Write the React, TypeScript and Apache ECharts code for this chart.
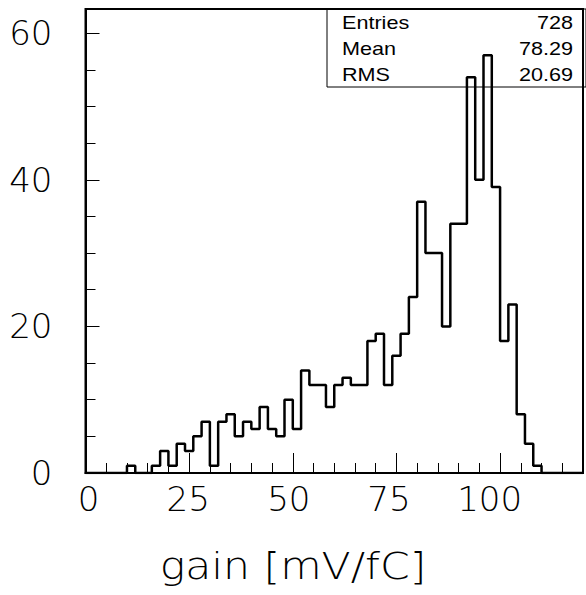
import { useEffect, useRef } from "react";
import * as echarts from "echarts";

// Histogram of channel gains: 60 bins of 2 mV/fC between 0 and 120.
const BIN_WIDTH = 2;
const X_MIN = 0;
const X_MAX = 120;
const Y_MAX = 63.3;
const counts = [
  0, 0, 0, 0, 0, 1, 0, 0, 1, 3,
  1, 4, 3, 5, 7, 1, 7, 8, 5, 7,
  6, 9, 6, 5, 10, 6, 14, 12, 12, 9,
  12, 13, 12, 12, 18, 19, 12, 16, 19, 24,
  37, 30, 30, 20, 34, 34, 54, 40, 57, 39,
  18, 23, 8, 4, 1, 0, 0, 0, 0, 0,
];
const xTickLabels = [0, 25, 50, 75, 100];
const yTickLabels = [0, 20, 40, 60];
const statNames = ["Entries", "Mean", "RMS"];
const statValues = ["728", "78.29", "20.69"];
const xTitle = "gain [mV/fC]";

const LABEL_FONT = "DejaVu Sans";
// Small per-label horizontal nudges for the x tick labels.
const xLabelPads: [number, number, number, number][] = [
  [0, 0, 0, 6],
  [0, 2, 0, 0],
  [0, 8, 0, 0],
  [0, 15, 0, 0],
  [0, 21, 0, 0],
];

export default function App() {
  const ref = useRef<HTMLDivElement>(null);

  useEffect(() => {
    if (!ref.current) return;
    const chart = echarts.init(ref.current, undefined, { renderer: "svg" });

    const stepPoints: [number, number][] = counts.map((c, i) => [X_MIN + i * BIN_WIDTH, c]);
    stepPoints.push([X_MAX, counts[counts.length - 1]]);

    const rich: Record<string, any> = {};
    xLabelPads.forEach((p, i) => {
      rich["t" + i] = {
        fontFamily: LABEL_FONT,
        fontSize: 34,
        fontWeight: 200,
        color: "#000",
        padding: p,
      };
    });

    const baseAxis = {
      axisLine: { show: false, onZero: false },
      splitLine: { show: false },
    };

    const statY = [23, 49, 75];
    const statGraphics: any[] = [
      {
        type: "rect",
        shape: { x: 327, y: 9, width: 259, height: 78 },
        style: { fill: "none", stroke: "#000", lineWidth: 1 },
        z: 1,
      },
    ];
    statNames.forEach((name, i) => {
      statGraphics.push({
        type: "text",
        x: 342,
        y: statY[i],
        scaleX: 1.2,
        style: {
          text: name,
          fontFamily: "Liberation Sans",
          fontSize: 18,
          fill: "#000",
          align: "left",
          verticalAlign: "middle",
        },
        z: 2,
      });
      statGraphics.push({
        type: "text",
        x: 573,
        y: statY[i],
        scaleX: 1.2,
        style: {
          text: statValues[i],
          fontFamily: "Liberation Sans",
          fontSize: 18,
          fill: "#000",
          align: "right",
          verticalAlign: "middle",
        },
        z: 2,
      });
    });

    chart.setOption({
      animation: false,
      backgroundColor: "#fff",
      grid: {
        left: 85.5,
        right: 0,
        top: 9,
        bottom: 122,
        show: true,
        borderColor: "#000",
        borderWidth: 2,
        backgroundColor: "transparent",
      },
      xAxis: [
        {
          type: "value",
          position: "bottom",
          min: X_MIN,
          max: X_MAX,
          interval: 25,
          ...baseAxis,
          axisLine: { show: true, onZero: false, lineStyle: { color: "#000", width: 2 } },
          axisTick: { show: true, inside: true, length: 20, lineStyle: { color: "#000", width: 1 } },
          axisLabel: {
            show: true,
            margin: 9,
            formatter: (v: number) => {
              const idx = xTickLabels.indexOf(v);
              return idx < 0 ? "" : `{t${idx}|${v}}`;
            },
            rich,
          },
        },
        {
          type: "value",
          position: "bottom",
          min: X_MIN,
          max: X_MAX,
          interval: 5,
          ...baseAxis,
          axisTick: { show: true, inside: true, length: 10, lineStyle: { color: "#000", width: 1 } },
          axisLabel: { show: false },
        },
      ],
      yAxis: [
        {
          type: "value",
          position: "left",
          min: 0,
          max: Y_MAX,
          interval: 20,
          ...baseAxis,
          axisLine: { show: true, onZero: false, lineStyle: { color: "#000", width: 2 } },
          axisTick: { show: true, inside: true, length: 14, lineStyle: { color: "#000", width: 1 } },
          axisLabel: {
            show: true,
            margin: 33,
            fontFamily: LABEL_FONT,
            fontSize: 34,
            fontWeight: 200,
            color: "#000",
            formatter: (v: number) => (yTickLabels.includes(v) ? String(v) : ""),
          },
        },
        {
          type: "value",
          position: "left",
          min: 0,
          max: Y_MAX,
          interval: 5,
          ...baseAxis,
          axisTick: { show: true, inside: true, length: 10, lineStyle: { color: "#000", width: 1 } },
          axisLabel: { show: false },
        },
      ],
      series: [
        {
          type: "line",
          xAxisIndex: 0,
          yAxisIndex: 0,
          step: "end",
          data: stepPoints,
          symbol: "none",
          lineStyle: { color: "#000", width: 2.5 },
          z: 5,
        },
      ],
      graphic: [
        ...statGraphics,
        {
          type: "text",
          x: 293,
          y: 566,
          scaleX: 1.15,
          style: {
            text: xTitle,
            fontFamily: LABEL_FONT,
            fontSize: 37,
            fontWeight: 200,
            fill: "#000",
            align: "center",
            verticalAlign: "middle",
          },
        },
      ],
    });

    return () => chart.dispose();
  }, []);

  return (
    <div
      ref={ref}
      style={{ position: "absolute", left: 0, top: 0, width: 586, height: 595, background: "#fff" }}
    />
  );
}
